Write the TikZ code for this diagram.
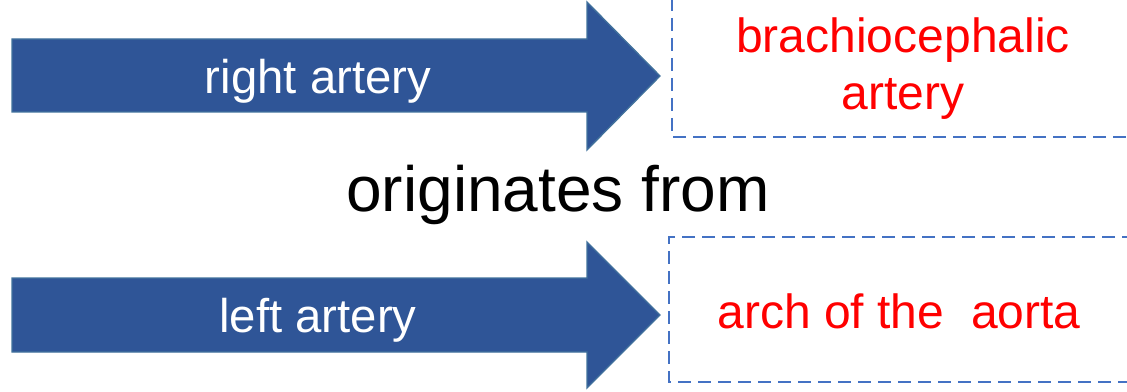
\documentclass[tikz,border=0pt]{standalone}
\usepackage{fontspec}
\setmainfont{Liberation Sans}
\usetikzlibrary{positioning}

\definecolor{arrowblue}{HTML}{2F5597}
\definecolor{arrowedge}{HTML}{41719C}
\definecolor{boxblue}{HTML}{4472C4}

\tikzset{
	bigarrow/.style={fill=arrowblue, draw=arrowedge, line width=1pt, line join=miter},
	dashbox/.style={draw=boxblue, line width=2pt, dash pattern=on 9.5pt off 5.5pt},
	armlabel/.style={text=white, font=\fontsize{35.5}{40}\selectfont},
	targetlabel/.style={text=red, font=\fontsize{36}{42.75}\selectfont, align=center},
}

\begin{document}
\begin{tikzpicture}[x=0.75pt, y=-0.75pt]
	\useasboundingbox (0, 0) rectangle (1127, 392);
	%%
	\draw[bigarrow] (12, 39) -- (587, 39) -- (587, 2) -- (660, 76) -- (587, 150) -- (587, 112) -- (12, 112) -- cycle;
	\draw[bigarrow] (12, 278) -- (587, 278) -- (587, 242) -- (660, 315) -- (587, 388) -- (587, 352) -- (12, 352) -- cycle;
	\node[armlabel, anchor=base] (rightlabel) at (318, 94) {right artery};
	\node[armlabel, anchor=base] (leftlabel) at (318, 332) {left artery};
	%%
	\draw[dashbox] (672, -2) -- (672, 137) -- (1135, 137);
	\draw[dashbox] (1135, 237) -- (669, 237) -- (669, 382) -- (1135, 382);
	\node[targetlabel, anchor=base] (brachio) at (903, 110) {brachiocephalic\\artery};
	\node[targetlabel, anchor=base] (aorta) at (899, 328) {arch of the\ \ aorta};
	%%
	\node[font=\fontsize{48}{56}\selectfont, anchor=base] (originates) at (558, 211) {originates from};
\end{tikzpicture}
\end{document}
